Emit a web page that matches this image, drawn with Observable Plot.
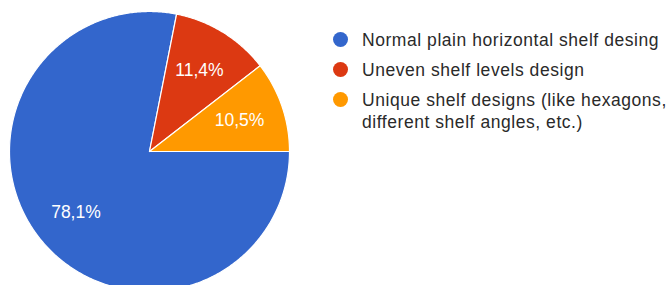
<!DOCTYPE html>
<html>
<head>
<meta charset="utf-8">
<script src="https://cdn.jsdelivr.net/npm/d3@7"></script>
<script src="https://cdn.jsdelivr.net/npm/@observablehq/plot@0.6"></script>
<style>
  html, body { margin: 0; padding: 0; background: #fff; overflow: hidden; width: 667px; height: 285px; }
  #wrap { position: relative; width: 667px; height: 285px; }
  #chart { position: absolute; left: 0; top: 0; }
  #legend { position: absolute; left: 333px; top: 25px; font-family: "Liberation Sans", Arial, sans-serif; font-size: 17.5px; letter-spacing: 0.55px; color: #2a2a2a; }
  .row { position: relative; padding-left: 29px; min-height: 30px; line-height: 22px; width: 318px; }
  .sw { position: absolute; left: 0; top: 7px; width: 15px; height: 15px; border-radius: 50%; }
  .txt { padding-top: 4px; }
</style>
</head>
<body>
<div id="wrap"><div id="chart"></div><div id="legend"></div></div>
<script>
const categories = [
  "Normal plain horizontal shelf desing",
  "Uneven shelf levels design",
  "Unique shelf designs (like hexagons, different shelf angles, etc.)"
];
const shares = [78.1, 11.4, 10.5];
const shareLabels = ["78,1%", "11,4%", "10,5%"];
const palette = ["#3366cc", "#dc3912", "#ff9900"];

const rows = categories.map((c, i) => ({category: c, value: shares[i], label: shareLabels[i]}));
const arcs = d3.pie().value(d => d.value).sort(null)
  .startAngle(Math.PI / 2).endAngle(Math.PI / 2 + 2 * Math.PI)(rows);

// outline of each slice in unit-circle data space
const outline = arcs.flatMap(a => {
  const n = Math.max(2, Math.ceil((a.endAngle - a.startAngle) / 0.01));
  const pts = [{x: 0, y: 0, category: a.data.category}];
  for (let i = 0; i <= n; i++) {
    const t = a.startAngle + (a.endAngle - a.startAngle) * i / n;
    pts.push({x: Math.sin(t), y: Math.cos(t), category: a.data.category});
  }
  return pts;
});
const labelPos = arcs.map(a => {
  const m = (a.startAngle + a.endAngle) / 2;
  return {x: 0.68 * Math.sin(m), y: 0.68 * Math.cos(m), label: a.data.label};
});

const chart = Plot.plot({
  width: 667,
  height: 285,
  margin: 0,
  x: {domain: [-1, 1], range: [9, 289], axis: null},
  y: {domain: [-1, 1], range: [291, 11], axis: null},
  color: {domain: categories, range: palette},
  style: {fontFamily: "'Liberation Sans', Arial, sans-serif", background: "white"},
  marks: [
    Plot.line(outline, {x: "x", y: "y", z: "category", fill: "category", stroke: "white", strokeWidth: 1.2, curve: "linear-closed"}),
    Plot.text(labelPos, {x: "x", y: "y", text: "label", fill: "white", fontSize: 17.5})
  ]
});
document.getElementById("chart").appendChild(chart);

const legend = document.getElementById("legend");
categories.forEach((c, i) => {
  const row = document.createElement("div");
  row.className = "row";
  const sw = document.createElement("div");
  sw.className = "sw";
  sw.style.background = palette[i];
  const t = document.createElement("div");
  t.className = "txt";
  t.textContent = c;
  row.appendChild(sw);
  row.appendChild(t);
  legend.appendChild(row);
});
</script>
</body>
</html>
